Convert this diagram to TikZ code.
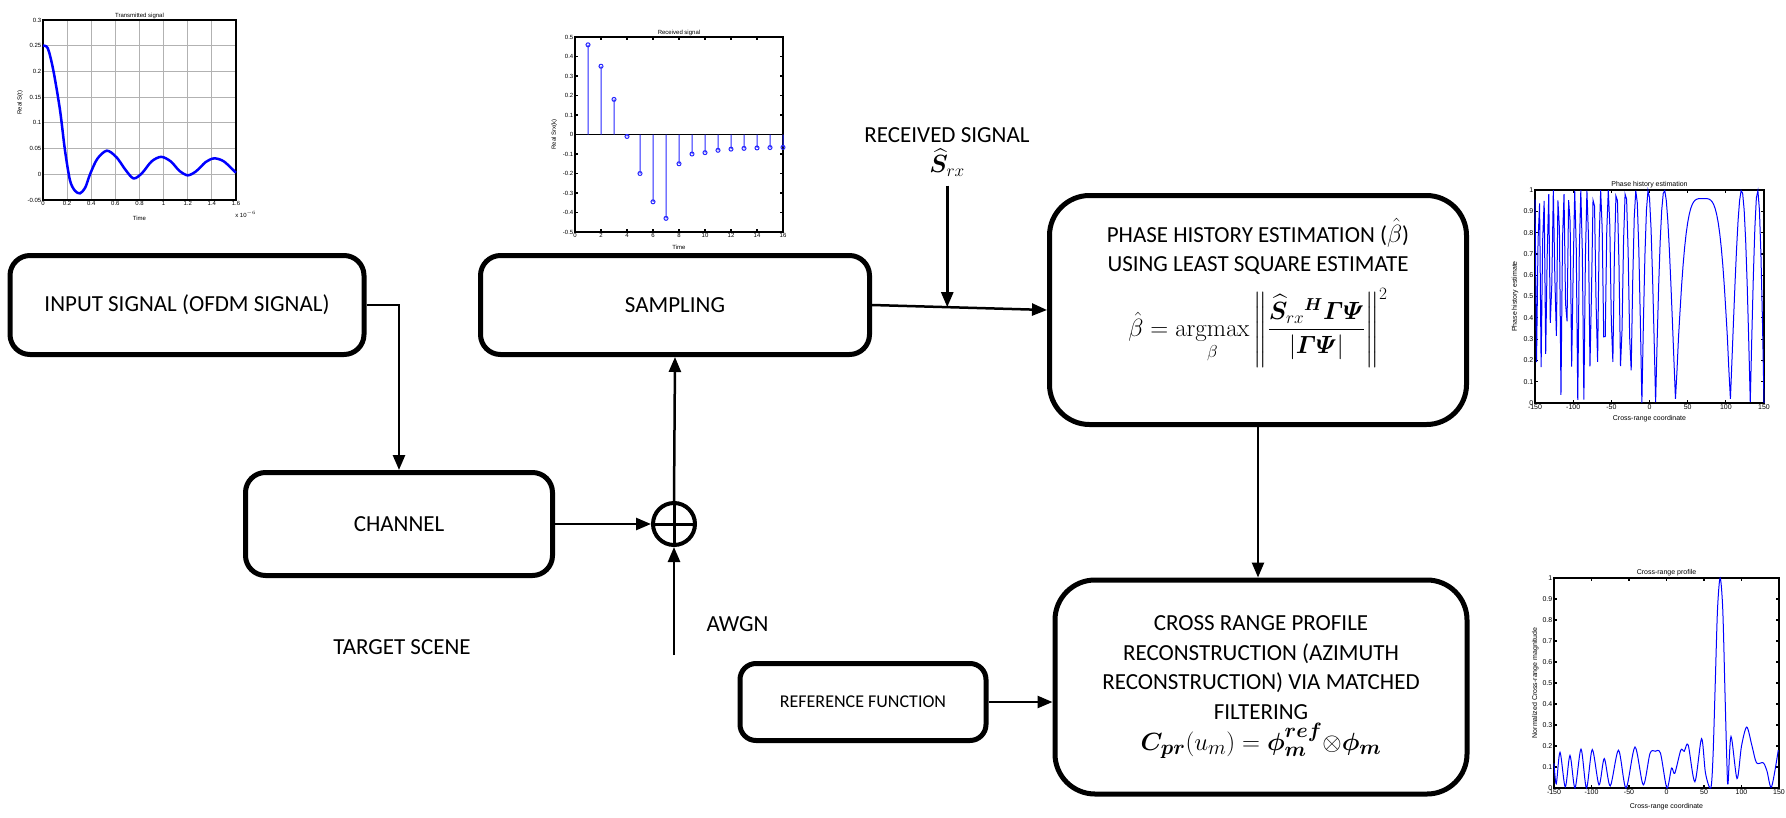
\documentclass[tikz,border=0pt]{standalone}
\usepackage{amsmath,amssymb}
\usepackage{bm}
\usepackage[no-math]{fontspec}
\setmainfont{Carlito}
\newfontfamily\plotfont{Liberation Sans}
\usetikzlibrary{arrows.meta,positioning,calc}

\begin{document}
\begin{tikzpicture}[x=1pt, y=-1pt, >={Triangle[length=15pt,width=12pt]},
    font=\fontsize{23}{29.5}\selectfont,
    block/.style={draw, line width=5pt, rounded corners=20pt, align=center, inner sep=0pt},
    bigblock/.style={block, rounded corners=40pt},
    link/.style={->, line width=2.5pt},
    plotlab/.style={font=\plotfont\fontsize{7}{8}\selectfont, inner sep=1.5pt},
    frame/.style={line width=1.2pt},
    gridline/.style={gray!60, line width=0.8pt},
    trace/.style={blue, line width=1pt},
    stem/.style={blue!85, line width=1pt}]
    \useasboundingbox (0,0) rectangle (1786,817);

    \node[block, minimum width=354pt, minimum height=99pt] (input) at (187,305) {INPUT SIGNAL (OFDM SIGNAL)};
    \node[block, minimum width=389pt, minimum height=99pt] (sampling) at (675,305) {SAMPLING};
    \node[block, minimum width=307pt, minimum height=103pt] (channel) at (399,524) {CHANNEL};
    \node[circle, draw, line width=4pt, minimum size=42pt, inner sep=0pt] (sum) at (674,524) {};
    \draw[line width=3pt] (sum.north) -- (sum.south) (sum.west) -- (sum.east);
    \node (scene) at (402,647) {TARGET SCENE};
    \node[anchor=west] (awgn) at (703,624) {AWGN};
    \coordinate (noise) at (674,655);

    \node[bigblock, minimum width=417pt, minimum height=229pt] (phase) at (1258,310) {};
    \node[align=center, below=22pt of phase.north] (phasetext) {PHASE HISTORY ESTIMATION ($\hat{\beta}$)\\
        USING LEAST SQUARE ESTIMATE\\[12pt]
        {\fontsize{25}{30}\selectfont $\displaystyle \hat{\beta} = \operatorname*{argmax}_{\beta}
        \left\| \frac{\widehat{\bm{S}}_{rx}{}^{\bm{H}}\bm{\varGamma\varPsi}}{|\bm{\varGamma\varPsi}|} \right\|^{2}$}};
    \node[bigblock, minimum width=412pt, minimum height=214pt] (cross) at (1261,687) {CROSS RANGE PROFILE\\
        RECONSTRUCTION (AZIMUTH\\ RECONSTRUCTION) VIA MATCHED\\ FILTERING\\[2pt]
        {\fontsize{31}{36}\selectfont $\bm{C}_{\bm{pr}}(u_m) = \bm{\phi}^{\bm{ref}}_{\bm{m}}{\otimes}\bm{\phi}_{\bm{m}}$}};
    \node[block, rounded corners=16pt, minimum width=246pt, minimum height=77pt,
        font=\fontsize{18}{22}\selectfont] (ref) at (863,702) {REFERENCE FUNCTION};

    \node[align=center] (rxlabel) at (947,152) {RECEIVED SIGNAL\\ $\widehat{\bm{S}}_{rx}$};
    \coordinate (rxin) at ($(sampling.east)!0.43!(phase.west)$);

    \draw[link] (input.east) -| (channel.north);
    \draw[link] (channel.east) -- (sum.west);
    \draw[link] (noise) -- (sum.south);
    \draw[link] (sum.north) -- (sampling.south);
    \draw[link] (sampling.east) -- (phase.west);
    \draw[link] ([yshift=-6pt]rxlabel.south -| rxin) -- (rxin);
    \draw[link] (phase.south) -- (phase.south |- cross.north);
    \draw[link] (ref.east) -- (ref.east -| cross.west);

    % transmitted pulse
    \begin{scope}[shift={(43,174.3)}, x={(120.6pt,0pt)}, y={(0pt,514.3pt)},
        plotlab/.style={font=\plotfont\fontsize{6}{7}\selectfont, inner sep=1.5pt}]
        \foreach \t in {0.2,0.4,...,1.4}
            \draw[gridline] (\t,-0.05) -- (\t,0.3);
        \foreach \v in {0,0.05,0.1,0.15,0.2,0.25}
            \draw[gridline] (0,\v) -- (1.6,\v);
        \draw[frame] (0,-0.05) rectangle (1.6,0.3);
        \foreach \t in {0,0.2,0.4,0.6,0.8,1,1.2,1.4,1.6}
            \node[plotlab, below] at (\t,-0.05) {\t};
        \foreach \v in {-0.05,0,0.05,0.1,0.15,0.2,0.25,0.3}
            \node[plotlab, left] at (0,\v) {\v};
        \draw[blue, line width=2.5pt] plot[smooth] coordinates {(0,0.25) (0.04,0.245) (0.085,0.203)
            (0.141,0.125) (0.182,0.047) (0.224,-0.012) (0.265,-0.032) (0.307,-0.037) (0.35,-0.026)
            (0.39,0) (0.45,0.03) (0.53,0.046) (0.61,0.033) (0.68,0.01) (0.75,-0.008) (0.82,0.002)
            (0.9,0.025) (0.98,0.034) (1.06,0.025) (1.13,0.007) (1.2,-0.002) (1.27,0.006)
            (1.35,0.024) (1.42,0.031) (1.5,0.025) (1.6,0.003)};
        \node[plotlab, above] at (0.8,0.3) {Transmitted signal};
        \node[plotlab, rotate=90] at (-0.19,0.139) {Real S(t)};
        \node[plotlab] at (0.8,-0.085) {Time};
        \node[plotlab] at (1.68,-0.078) {x 10$^{-6}$};
    \end{scope}

    % sampled signal
    \begin{scope}[shift={(575,134.5)}, x={(13pt,0pt)}, y={(0pt,195pt)},
        plotlab/.style={font=\plotfont\fontsize{6}{7}\selectfont, inner sep=1.5pt}]
        \draw[frame] (0,-0.5) rectangle (16,0.5);
        \draw[frame] (0,0) -- (16,0);
        \foreach \k in {0,2,...,16} {
            \draw[frame] (\k,-0.5) -- ++(0,3pt) (\k,0.5) -- ++(0,-3pt);
            \node[plotlab, below] at (\k,-0.5) {\k};
        }
        \foreach \v in {-0.5,-0.4,-0.3,-0.2,-0.1,0,0.1,0.2,0.3,0.4,0.5} {
            \draw[frame] (0,\v) -- ++(3pt,0) (16,\v) -- ++(-3pt,0);
            \node[plotlab, left] at (0,\v) {\v};
        }
        \foreach \k/\s in {1/0.46,2/0.35,3/0.18,4/-0.01,5/-0.2,6/-0.345,7/-0.43,8/-0.15,9/-0.1,
                10/-0.093,11/-0.081,12/-0.075,13/-0.071,14/-0.069,15/-0.067,16/-0.066}
            \draw[stem] (\k,0) -- (\k,\s) circle (2pt);
        \node[plotlab, above] at (8,0.5) {Received signal};
        \node[plotlab, rotate=90] at (-1.6,0) {Real Srx(k)};
        \node[plotlab] at (8,-0.58) {Time};
    \end{scope}

    % phase history
    \begin{scope}[shift={(1649.5,403)}, x={(0.7633pt,0pt)}, y={(0pt,213pt)}]
        \draw[frame] (-150,0) rectangle (150,1);
        \foreach \c in {-150,-100,...,150} {
            \draw[frame] (\c,0) -- ++(0,3pt) (\c,1) -- ++(0,-3pt);
            \node[plotlab, below] at (\c,0) {\c};
        }
        \foreach \v in {0,0.1,0.2,0.3,0.4,0.5,0.6,0.7,0.8,0.9,1} {
            \draw[frame] (-150,\v) -- ++(3pt,0) (150,\v) -- ++(-3pt,0);
            \node[plotlab, left] at (-150,\v) {\v};
        }
        \draw[trace] plot[domain=-150:150, samples=151]
            (\x,{0.96*abs(cos(180*((\x-70)/50.6)*((\x-70)/50.6)))+0.04*abs(cos(180*((\x-70)/50.6)*((\x-70)/50.6)))*(abs(\x-70)>30)});
        \node[plotlab, above] at (0,1) {Phase history estimation};
        \node[plotlab, rotate=90] at (-176,0.5) {Phase history estimate};
        \node[plotlab] at (0,-0.075) {Cross-range coordinate};
    \end{scope}

    % cross-range profile
    \begin{scope}[shift={(1666.5,788)}, x={(0.75pt,0pt)}, y={(0pt,210pt)}]
        \draw[frame] (-150,0) rectangle (150,1);
        \foreach \c in {-150,-100,...,150} {
            \draw[frame] (\c,0) -- ++(0,3pt) (\c,1) -- ++(0,-3pt);
            \node[plotlab, below] at (\c,0) {\c};
        }
        \foreach \v in {0,0.1,0.2,0.3,0.4,0.5,0.6,0.7,0.8,0.9,1} {
            \draw[frame] (-150,\v) -- ++(3pt,0) (150,\v) -- ++(-3pt,0);
            \node[plotlab, left] at (-150,\v) {\v};
        }
        \draw[trace] plot[smooth, tension=0.5] coordinates {(-150,0.117) (-147,0.02) (-142,0.17)
            (-135,0.005) (-128.7,0.155) (-122,0) (-114,0.185) (-106.7,0) (-99,0.183) (-90,0.015)
            (-83,0.14) (-75,0.01) (-64,0.18) (-54,0) (-42,0.195) (-31,0.015) (-22,0.165) (-15,0.175)
            (-8,0.165) (0.5,0) (6.7,0.095) (11,0.07) (19,0.18) (23.6,0.175) (28.9,0.205) (37.8,0.03)
            (46.7,0.235) (52,0.07) (59,0) (62,0.15) (65,0.5) (68,0.85) (71.5,1) (75,0.85) (78,0.45)
            (80.5,0.12) (82,0.02) (86,0.245) (94,0.045) (100,0.2) (107,0.29) (114,0.2) (120,0.12)
            (129,0.12) (134,0.08) (140,0.005) (149,0.18)};
        \node[plotlab, above] at (0,1) {Cross-range profile};
        \node[plotlab, rotate=90] at (-175,0.5) {Normalized Cross-range magnitude};
        \node[plotlab] at (0,-0.09) {Cross-range coordinate};
    \end{scope}
\end{tikzpicture}
\end{document}
